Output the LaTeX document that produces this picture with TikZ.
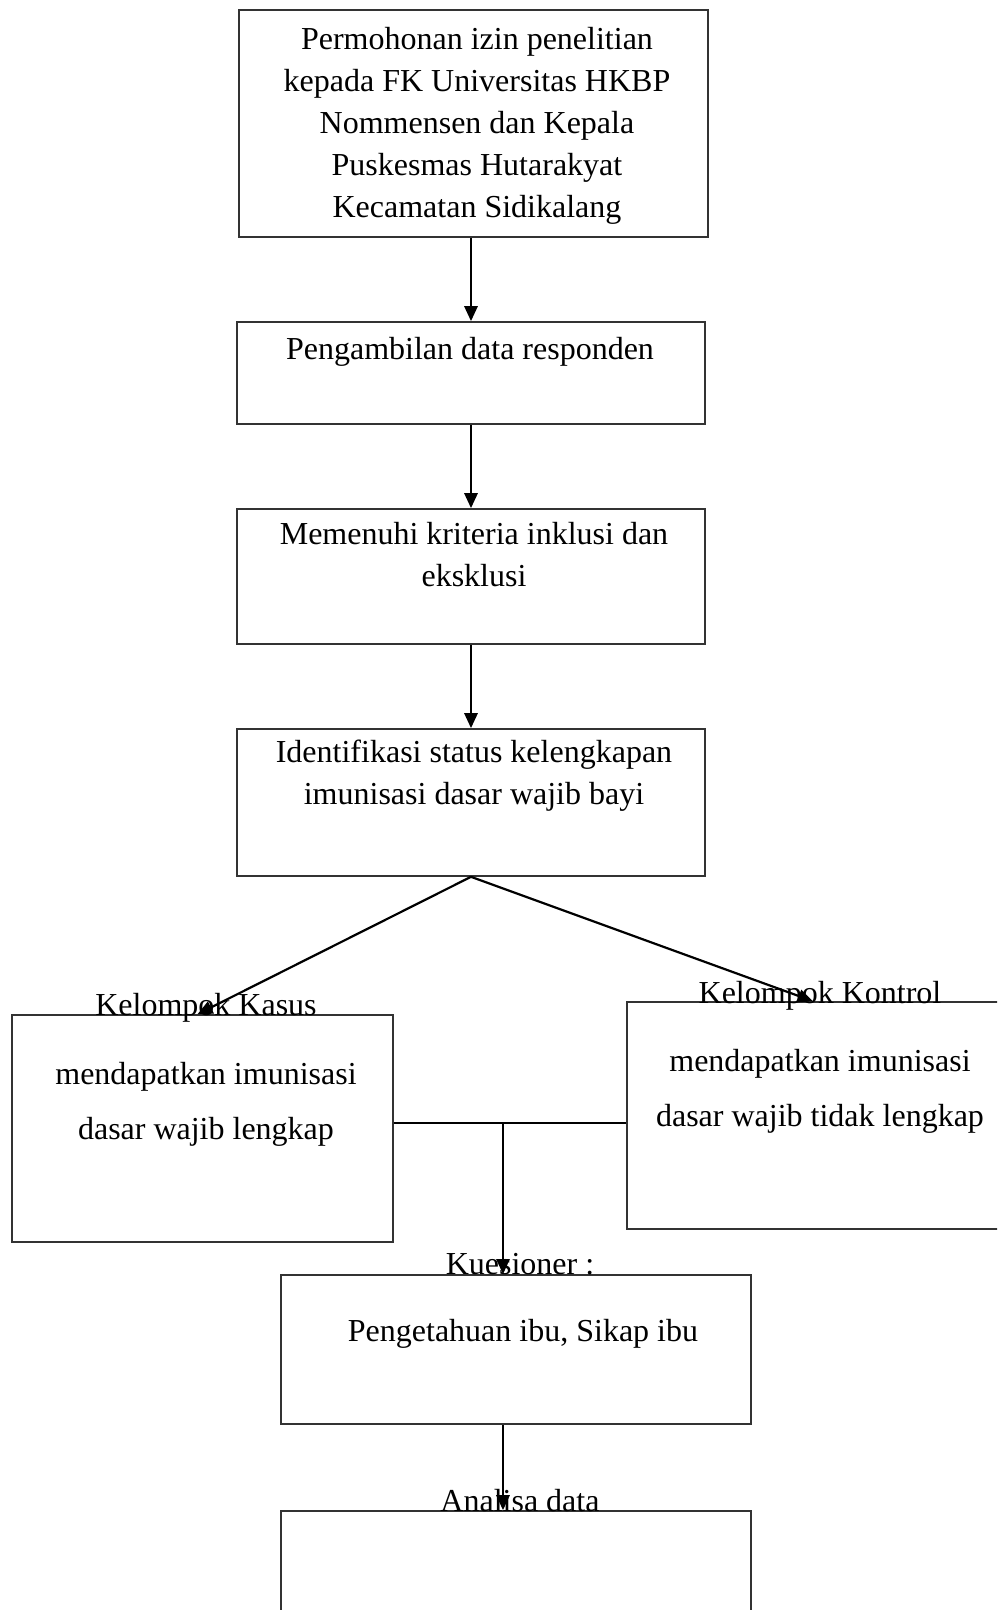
\documentclass[tikz,border=0pt]{standalone}
\usepackage{fontspec}
\setmainfont{Liberation Serif}
\usepackage{tikz}
\usetikzlibrary{arrows.meta,positioning}

\begin{document}
\begin{tikzpicture}[
    x=1pt, y=-1pt,
    box/.style={draw=black!80, line width=1.6pt, inner sep=0pt},
    txt/.style={align=center, inner sep=0pt, font=\fontsize{32}{42}\selectfont},
    wide/.style={align=center, inner sep=0pt, font=\fontsize{32}{55}\selectfont},
    arrow/.style={-{Triangle[length=15pt,width=13pt]}, line width=2.8pt},
    link/.style={line width=2.2pt}
]
\clip (0,0) rectangle (997,1610);

% boxes
\node[box, minimum width=469pt, minimum height=227pt] (izin) at (473.5,123.5) {};
\node[box, minimum width=468pt, minimum height=102pt] (ambil) at (471,373) {};
\node[box, minimum width=468pt, minimum height=135pt] (kriteria) at (471,576.5) {};
\node[box, minimum width=468pt, minimum height=147pt] (identifikasi) at (471,802.5) {};
\node[box, minimum width=381pt, minimum height=227pt] (kasus) at (202.5,1128.5) {};
\node[box, minimum width=372pt, minimum height=227pt] (kontrol) at (813,1115.5) {};
\node[box, minimum width=470pt, minimum height=149pt] (kuesioner) at (516,1349.5) {};
\node[box, minimum width=470pt, minimum height=149pt] (analisa) at (516,1585.5) {};

% texts
\node[txt] (izin-t) at (477,126) {Permohonan izin penelitian\\kepada FK Universitas HKBP\\Nommensen dan Kepala\\Puskesmas Hutarakyat\\Kecamatan Sidikalang};
\node[txt] (ambil-t) at (470,351.5) {Pengambilan data responden};
\node[txt] (kriteria-t) at (474,555) {Memenuhi kriteria inklusi dan\\eksklusi};
\node[txt] (identifikasi-t) at (474,776) {Identifikasi status kelengkapan\\imunisasi dasar wajib bayi};
\node[wide] (kasus-t) at (206,1104) {mendapatkan imunisasi\\dasar wajib lengkap};
\node[wide] (kontrol-t) at (820,1091.5) {mendapatkan imunisasi\\dasar wajib tidak lengkap};
\node[txt] (kuesioner-t) at (523,1333.5) {Pengetahuan ibu, Sikap ibu};

% labels
\node[txt] (kasus-l) at (206,1007.5) {Kelompok Kasus};
\node[txt] (kontrol-l) at (820,995.5) {Kelompok Kontrol};
\node[txt] (kuesioner-l) at (520,1264.5) {Kuesioner :};
\node[txt] (analisa-l) at (520,1500.5) {Analisa data};

% connectors
\coordinate (join) at (503,1123);
\draw[arrow] (ambil.north |- izin.south) -- (ambil.north);
\draw[arrow] (ambil) -- (kriteria);
\draw[arrow] (kriteria) -- (identifikasi);
\draw[arrow, link] (identifikasi.south) -- ([xshift=-5pt]kasus.north);
\draw[arrow, link] (identifikasi.south) -- (kontrol.north);
\draw[link] (join -| kasus.east) -- (join -| kontrol.west);
\draw[arrow, link] (join) -- (join |- kuesioner.north);
\draw[arrow] (join |- kuesioner.south) -- (join |- analisa.north);
\end{tikzpicture}
\end{document}
